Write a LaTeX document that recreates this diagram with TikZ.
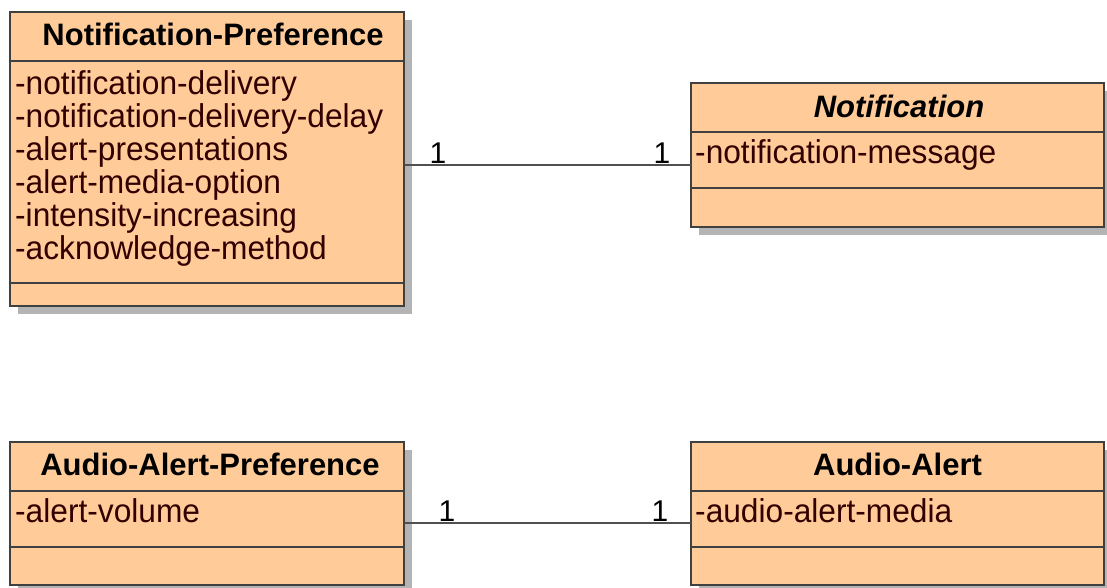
\documentclass[tikz,border=0pt]{standalone}
\usepackage{fontspec}
\setmainfont{Liberation Sans}
\newfontfamily\attrfont{Liberation Sans}[FakeStretch=0.96]
\usetikzlibrary{shadows}
\definecolor{boxfill}{HTML}{FFCC99}
\definecolor{bordergray}{HTML}{404040}
\definecolor{shadowgray}{HTML}{B4B4B4}
\definecolor{attrtext}{HTML}{330000}
\definecolor{linegray}{HTML}{505050}
\tikzset{
  cls/.style={draw=bordergray, line width=1.8pt, fill=boxfill, inner sep=0pt, outer sep=0pt,
    anchor=north west,
    drop shadow={shadow xshift=8pt, shadow yshift=-8pt, fill=shadowgray, draw=none, opacity=1}},
  title/.style={font=\bfseries\fontsize{31}{33}\selectfont, anchor=base, inner sep=0pt},
  attr/.style={font=\attrfont\fontsize{33}{33}\selectfont, text=attrtext, anchor=base west, inner sep=0pt},
  mult/.style={font=\fontsize{30}{33}\selectfont, anchor=base, inner sep=0pt},
  divider/.style={draw=bordergray, line width=1.8pt},
  assoc/.style={draw=linegray, line width=1.6pt}
}
\begin{document}
\begin{tikzpicture}[x=1pt,y=-1pt]
\useasboundingbox (0,0) rectangle (1107,587);
% Notification-Preference
\node[cls, minimum width=394pt, minimum height=294pt] (np) at (10,12) {};
\draw[divider] (np.west |- 0,61) -- (np.east |- 0,61);
\draw[divider] (np.west |- 0,283) -- (np.east |- 0,283);
\node[title] (npt) at (213,45) {Notification-Preference};
\foreach \t [count=\i from 0] in {notification-delivery,notification-delivery-delay,alert-presentations,alert-media-option,intensity-increasing,acknowledge-method}
  \node[attr] (npa\i) at (15,94+33*\i) {-\t};
% Notification
\node[cls, minimum width=413pt, minimum height=144pt] (n) at (691,83) {};
\draw[divider] (n.west |- 0,132) -- (n.east |- 0,132);
\draw[divider] (n.west |- 0,188) -- (n.east |- 0,188);
\node[title, font=\bfseries\itshape\fontsize{31}{33}\selectfont] (nt) at (899,117) {Notification};
\node[attr] (na) at (695,163) {-notification-message};
% Audio-Alert-Preference
\node[cls, minimum width=394pt, minimum height=143pt] (ap) at (10,442) {};
\draw[divider] (ap.west |- 0,491) -- (ap.east |- 0,491);
\draw[divider] (ap.west |- 0,547) -- (ap.east |- 0,547);
\node[title] (apt) at (210,475) {Audio-Alert-Preference};
\node[attr] (apa) at (15,522) {-alert-volume};
% Audio-Alert
\node[cls, minimum width=413pt, minimum height=143pt] (aa) at (691,442) {};
\draw[divider] (aa.west |- 0,491) -- (aa.east |- 0,491);
\draw[divider] (aa.west |- 0,547) -- (aa.east |- 0,547);
\node[title] (aat) at (897.5,475) {Audio-Alert};
\node[attr] (aaa) at (695,522) {-audio-alert-media};
% associations
\coordinate (c1) at (0,165);
\coordinate (c2) at (0,523);
\draw[assoc] (np.east |- c1) -- (n.west |- c1);
\draw[assoc] (ap.east |- c2) -- (aa.west |- c2);
\node[mult] (m1) at (438,163) {1};
\node[mult] (m2) at (662,163) {1};
\node[mult] (m3) at (447,521) {1};
\node[mult] (m4) at (660,521) {1};
\end{tikzpicture}
\end{document}
